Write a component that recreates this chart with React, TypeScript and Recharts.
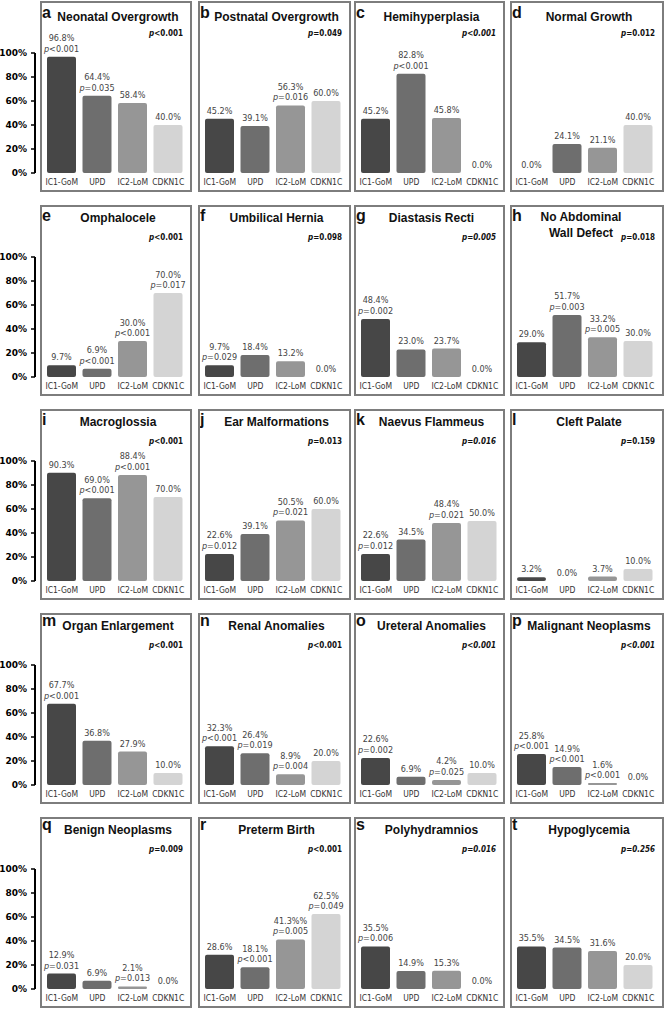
import React from "react";
import { BarChart, Bar, XAxis, YAxis, Cell, LabelList } from "recharts";

const categories = ["IC1-GoM", "UPD", "IC2-LoM", "CDKN1C"];
const barColors = ["#474747", "#6e6e6e", "#969696", "#d4d4d4"];
const yTicks = [0, 20, 40, 60, 80, 100];

const panelLetters = ["a", "b", "c", "d", "e", "f", "g", "h", "i", "j", "k", "l", "m", "n", "o", "p", "q", "r", "s", "t"];
const panelTitles = [
  ["Neonatal Overgrowth"], ["Postnatal Overgrowth"], ["Hemihyperplasia"], ["Normal Growth"],
  ["Omphalocele"], ["Umbilical Hernia"], ["Diastasis Recti"], ["No Abdominal", "Wall Defect"],
  ["Macroglossia"], ["Ear Malformations"], ["Naevus Flammeus"], ["Cleft Palate"],
  ["Organ Enlargement"], ["Renal Anomalies"], ["Ureteral Anomalies"], ["Malignant Neoplasms"],
  ["Benign Neoplasms"], ["Preterm Birth"], ["Polyhydramnios"], ["Hypoglycemia"],
];
const panelP = [
  "<0.001", "=0.049", "<0.001", "=0.012",
  "<0.001", "=0.098", "=0.005", "=0.018",
  "<0.001", "=0.013", "=0.016", "=0.159",
  "<0.001", "<0.001", "<0.001", "<0.001",
  "=0.009", "<0.001", "=0.016", "=0.256",
];
const panelPItalic = [
  false, false, true, false,
  false, false, true, false,
  false, false, true, false,
  false, false, true, true,
  false, false, true, true,
];

// values (%) and per-bar p labels, one pair per panel
const neonatal = [96.8, 64.4, 58.4, 40.0];
const neonatalP = ["<0.001", "=0.035", "", ""];
const postnatal = [45.2, 39.1, 56.3, 60.0];
const postnatalP = ["", "", "=0.016", ""];
const hemi = [45.2, 82.8, 45.8, 0.0];
const hemiP = ["", "<0.001", "", ""];
const normal = [0.0, 24.1, 21.1, 40.0];
const normalP = ["", "", "", ""];
const omphalocele = [9.7, 6.9, 30.0, 70.0];
const omphaloceleP = ["", "<0.001", "<0.001", "=0.017"];
const hernia = [9.7, 18.4, 13.2, 0.0];
const herniaP = ["=0.029", "", "", ""];
const diastasis = [48.4, 23.0, 23.7, 0.0];
const diastasisP = ["=0.002", "", "", ""];
const noWall = [29.0, 51.7, 33.2, 30.0];
const noWallP = ["", "=0.003", "=0.005", ""];
const macroglossia = [90.3, 69.0, 88.4, 70.0];
const macroglossiaP = ["", "<0.001", "<0.001", ""];
const ear = [22.6, 39.1, 50.5, 60.0];
const earP = ["=0.012", "", "=0.021", ""];
const naevus = [22.6, 34.5, 48.4, 50.0];
const naevusP = ["=0.012", "", "=0.021", ""];
const cleft = [3.2, 0.0, 3.7, 10.0];
const cleftP = ["", "", "", ""];
const organ = [67.7, 36.8, 27.9, 10.0];
const organP = ["<0.001", "", "", ""];
const renal = [32.3, 26.4, 8.9, 20.0];
const renalP = ["<0.001", "=0.019", "=0.004", ""];
const ureteral = [22.6, 6.9, 4.2, 10.0];
const ureteralP = ["=0.002", "", "=0.025", ""];
const malignant = [25.8, 14.9, 1.6, 0.0];
const malignantP = ["<0.001", "<0.001", "<0.001", ""];
const benign = [12.9, 6.9, 2.1, 0.0];
const benignP = ["=0.031", "", "=0.013", ""];
const preterm = [28.6, 18.1, 41.3, 62.5];
const pretermP = ["", "<0.001", "=0.005", "=0.049"];
const pretermText = ["28.6%", "18.1%", "41.3%%", "62.5%"];
const polyhydramnios = [35.5, 14.9, 15.3, 0.0];
const polyhydramniosP = ["=0.006", "", "", ""];
const hypoglycemia = [35.5, 34.5, 31.6, 20.0];
const hypoglycemiaP = ["", "", "", ""];

const panelValues = [
  neonatal, postnatal, hemi, normal,
  omphalocele, hernia, diastasis, noWall,
  macroglossia, ear, naevus, cleft,
  organ, renal, ureteral, malignant,
  benign, preterm, polyhydramnios, hypoglycemia,
];
const panelBarP = [
  neonatalP, postnatalP, hemiP, normalP,
  omphaloceleP, herniaP, diastasisP, noWallP,
  macroglossiaP, earP, naevusP, cleftP,
  organP, renalP, ureteralP, malignantP,
  benignP, pretermP, polyhydramniosP, hypoglycemiaP,
];

// layout
const colLeft = [40, 198, 354, 510];
const colWidth = [152, 153, 151, 154];
const rowTop = [1, 205, 409, 613, 817];
const titleBase = [20, 16.5, 16.5, 16.5, 16.5];
const letterBase = [17, 16, 16, 13, 13];
const BOX_H = 191;
const PLOT_TOP = 52;
const PLOT_H = 120;
const AXIS_H = BOX_H - PLOT_TOP - PLOT_H;

const sans = "'DejaVu Sans Condensed', 'DejaVu Sans', sans-serif";
const arial = "'Liberation Sans', Arial, sans-serif";

type Row = { name: string; value: number; label: string; p: string };

const makeLabel = (rows: Row[]) => (props: any) => {
  const { x, y, width, value } = props;
  const row = rows.find((d) => d.name === value);
  if (!row) return null;
  const cx = Number(x) + Number(width) / 2;
  const base = Number(y) - 5;
  return (
    <g key={`lbl-${row.name}`}>
      <text x={cx} y={row.p ? base - 10.5 : base} textAnchor="middle" fontSize={9} fill="#444" fontFamily={sans}>
        {row.label}
      </text>
      {row.p && (
        <text x={cx} y={base} textAnchor="middle" fontSize={9} fill="#444" fontFamily={sans}>
          <tspan fontStyle="italic">p</tspan>
          <tspan>{row.p}</tspan>
        </text>
      )}
    </g>
  );
};

function Panel({ idx }: { idx: number }) {
  const col = idx % 4;
  const r = Math.floor(idx / 4);
  const w = colWidth[col];
  const top = rowTop[r];
  const withAxis = col === 0;
  const extra = withAxis ? colLeft[0] : 0;
  const chartLeft = colLeft[col] - extra;
  const vals = panelValues[idx];
  const ps = panelBarP[idx];
  const rows: Row[] = categories.map((c, i) => ({
    name: c,
    value: vals[i],
    label: idx === 17 ? pretermText[i] : vals[i].toFixed(1) + "%",
    p: ps[i],
  }));
  const title = panelTitles[idx];
  const twoLine = title.length > 1;
  const titleX = twoLine ? w / 2 - 6 : w / 2 + 2;
  const italic = panelPItalic[idx];

  return (
    <div style={{ position: "absolute", left: chartLeft, top, width: w + extra, height: BOX_H }}>
      <BarChart
        width={w + extra}
        height={BOX_H}
        data={rows}
        margin={{ top: PLOT_TOP, right: w - 146, left: withAxis ? 0 : 4, bottom: 0 }}
        barCategoryGap={0}
      >
        <XAxis
          dataKey="name"
          interval={0}
          axisLine={false}
          tickLine={false}
          tickSize={4}
          height={AXIS_H}
          tick={{ fontSize: 8.5, fill: "#333", fontFamily: sans }}
        />
        {withAxis ? (
          <YAxis yAxisId="pad" domain={[0, 100]} width={9} axisLine={false} tickLine={false} tick={false} />
        ) : null}
        {withAxis ? (
          <YAxis
            yAxisId="pct"
            domain={[0, 100]}
            ticks={yTicks}
            width={35}
            tickFormatter={(v: number) => `${v}%`}
            axisLine={{ stroke: "#000", strokeWidth: 2 }}
            tickLine={{ stroke: "#000", strokeWidth: 1.5 }}
            tickSize={4}
            tickMargin={4}
            tick={{ fontSize: 9, fontWeight: "bold", fill: "#000", fontFamily: "'DejaVu Sans', sans-serif" }}
          />
        ) : (
          <YAxis yAxisId="pct" hide domain={[0, 100]} />
        )}
        <Bar yAxisId="pct" dataKey="value" barSize={29} radius={2} minPointSize={0.01} isAnimationActive={false}>
          {rows.map((_, i) => (
            <Cell key={i} fill={barColors[i]} />
          ))}
          <LabelList dataKey="name" content={makeLabel(rows)} />
        </Bar>
      </BarChart>
      <svg width={w} height={BOX_H} style={{ position: "absolute", left: extra, top: 0, pointerEvents: "none" }}>
        <text x={2} y={letterBase[r]} fontSize={16} fontWeight="bold" fontFamily={arial} fill="#111">
          {panelLetters[idx]}
        </text>
        {title.map((t, i) => (
          <text
            key={i}
            x={titleX}
            y={twoLine ? 16 + i * 16 : titleBase[r]}
            textAnchor="middle"
            fontSize={12}
            fontWeight="bold"
            fontFamily={arial}
            fill="#111"
          >
            {t}
          </text>
        ))}
        <text
          x={w - 9}
          y={35}
          textAnchor="end"
          fontSize={8}
          fontWeight="bold"
          fontFamily={sans}
          fill="#111"
          fontStyle={italic ? "italic" : "normal"}
        >
          <tspan fontStyle="italic">p</tspan>
          <tspan>{panelP[idx]}</tspan>
        </text>
      </svg>
      <div
        style={{
          position: "absolute",
          left: extra,
          top: 0,
          width: w,
          height: BOX_H,
          boxSizing: "border-box",
          border: "2px solid #7d7d7d",
          pointerEvents: "none",
        }}
      />
    </div>
  );
}

export default function App() {
  return (
    <div style={{ position: "absolute", left: 0, top: 0, width: 668, height: 1011, background: "#fff" }}>
      {panelTitles.map((_, i) => (
        <Panel key={i} idx={i} />
      ))}
    </div>
  );
}
